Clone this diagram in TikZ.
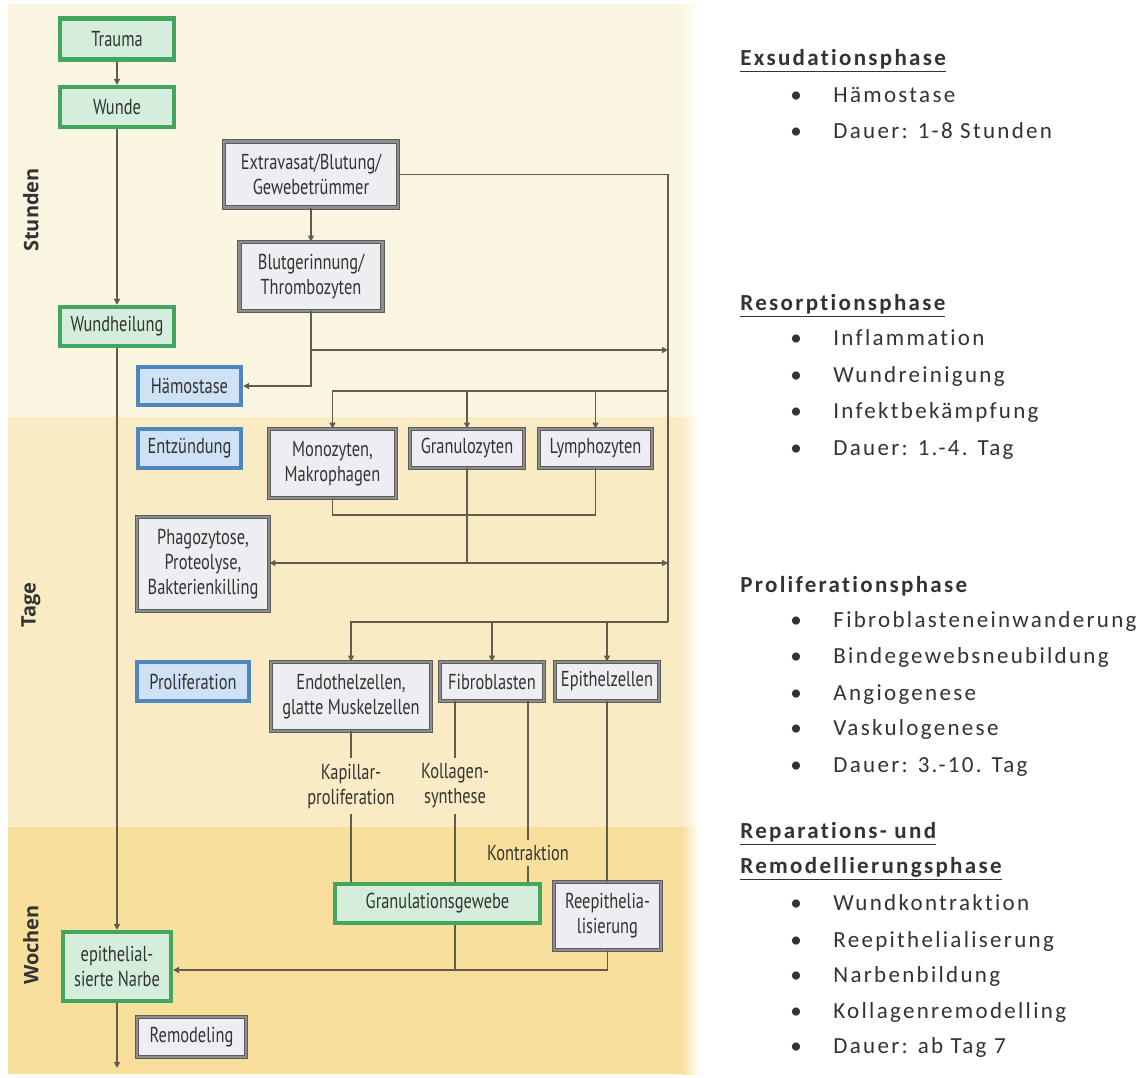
\documentclass[tikz,border=0pt]{standalone}
\usepackage{fontspec}
\setmainfont{Carlito}
\newfontfamily\boxfont[FakeStretch=0.76]{PT Sans}
\newfontfamily\sidefont[LetterSpace=10,Ligatures=NoCommon]{Carlito}
\newfontfamily\bandfont{Open Sans}
\usetikzlibrary{arrows.meta}

\definecolor{bandA}{HTML}{FBF6E2}
\definecolor{bandB}{HTML}{F9EBC4}
\definecolor{bandC}{HTML}{F8DF9C}
\definecolor{linec}{HTML}{625C4A}
\definecolor{grayfill}{HTML}{EDEEF2}
\definecolor{grayedge}{HTML}{5C5C5C}
\definecolor{graymid}{HTML}{8E8E8E}
\definecolor{greenfill}{HTML}{D4EEDB}
\definecolor{greenedge}{HTML}{42A660}
\definecolor{bluefill}{HTML}{CFE1F5}
\definecolor{blueedge}{HTML}{4E86C0}
\definecolor{txt}{HTML}{333333}

\begin{document}
\begin{tikzpicture}[x=0.5pt,y=-0.5pt,
  box/.style={rectangle, inner sep=0pt, align=center,
    font=\boxfont\fontsize{10.8}{12.5}\selectfont, text=txt},
  graybox/.style={box, fill=grayfill, draw=grayedge, line width=0.45pt,
    double=graymid, double distance=1.3pt},
  greenbox/.style={box, fill=greenfill, draw=greenedge, line width=2.1pt},
  bluebox/.style={box, fill=bluefill, draw=blueedge, line width=2.1pt},
  sz/.style 2 args={minimum width={(#1-4)*0.5pt}, minimum height={(#2-4)*0.5pt}},
  lbl/.style={inner sep=2.5pt, align=center, font=\boxfont\fontsize{10.8}{12.5}\selectfont, text=txt},
  conn/.style={draw=linec, line width=0.75pt},
  arr/.style={conn, -{Triangle[length=3pt,width=3pt]}},
  bandlbl/.style={rotate=90, font=\bandfont\bfseries\fontsize{10}{12}\selectfont, text=txt},
  side/.style={anchor=base west, inner sep=0pt, text=txt,
    font=\sidefont\fontsize{11.5}{14}\selectfont},
  head/.style={side, font=\sidefont\bfseries\fontsize{11.5}{14}\selectfont}
]
\useasboundingbox (0,0) rectangle (1146,1077);
\fill[white] (0,0) rectangle (1146,1077);

% time bands
\fill[bandA] (8,4) rectangle (682,417);
\fill[bandB] (8,417) rectangle (682,827);
\fill[bandC] (8,827) rectangle (682,1074);
\shade[left color=bandA, right color=white] (681,4) rectangle (700,417);
\shade[left color=bandB, right color=white] (681,417) rectangle (700,827);
\shade[left color=bandC, right color=white] (681,827) rectangle (700,1074);

\node[bandlbl] (lblS) at (31,210) {Stunden};
\node[bandlbl] (lblT) at (31,605) {Tage};
\node[bandlbl] (lblW) at (31,945) {Wochen};

% main course
\node[greenbox, sz={118}{45}] (trauma) at (117,39) {Trauma};
\node[greenbox, sz={118}{44}] (wunde) at (117,107) {Wunde};
\node[greenbox, sz={118}{43}] (heilung) at (117,326.5) {Wundheilung};
\node[greenbox, sz={112}{73}] (narbe) at (117,966.5) {epithelial-\\sierte Narbe};
\node[graybox, sz={113}{44}] (remodel) at (191.5,1037) {Remodeling};
\coordinate (endpt) at (117,1068);

% phases
\node[bluebox, sz={107}{42}] (haemo) at (189.5,386) {Hämostase};
\node[bluebox, sz={107}{43}] (entz) at (189.5,448.5) {Entzündung};
\node[bluebox, sz={116}{43}] (prolif) at (193,681.5) {Proliferation};

% haemostasis
\node[graybox, sz={178}{70}] (extra) at (311,174.5) {Extravasat/Blutung/\\Gewebetrümmer};
\node[graybox, sz={147}{73}] (blut) at (311,276.5) {Blutgerinnung/\\Thrombozyten};

% inflammation
\node[graybox, sz={131}{73}] (mono) at (332.5,463.5) {Monozyten,\\Makrophagen};
\node[graybox, sz={118}{43}] (granu) at (467,448.5) {Granulozyten};
\node[graybox, sz={117}{43}] (lympho) at (595.5,448.5) {Lymphozyten};
\node[graybox, sz={136}{98}] (phago) at (203,564) {Phagozytose,\\Proteolyse,\\Bakterienkilling};

% proliferation
\node[graybox, sz={164}{73}] (endo) at (351,696.5) {Endothelzellen,\\glatte Muskelzellen};
\node[graybox, sz={108}{43}] (fibro) at (492,681.5) {Fibroblasten};
\node[graybox, sz={108}{43}] (epi) at (607,681.5) {Epithelzellen};
\node[greenbox, sz={209}{43}] (granul) at (437.5,903.5) {Granulationsgewebe};
\node[graybox, sz={111}{72}] (reepi) at (607.5,916) {Reepithelia-\\lisierung};

\node[lbl] (kap) at (351,786) {Kapillar-\\proliferation};
\node[lbl] (koll) at (455,786) {Kollagen-\\synthese};
\node[lbl] (kontr) at (528,853) {Kontraktion};

% connectors
\coordinate (b350) at (668,350);
\coordinate (b391) at (668,391);
\coordinate (b563) at (668,563);
\coordinate (trunk) at (668,622);
\coordinate (lc) at (0,515);
\coordinate (bot) at (607,970);

\draw[arr] (trauma.south) -- (wunde.north);
\draw[arr] (wunde.south) -- (heilung.north);
\draw[arr] (heilung.south) -- (narbe.north);
\draw[arr] (narbe.south) -- (endpt);

\draw[arr] (extra.south) -- (blut.north);
\draw[arr] (blut.south) |- (haemo.east);
\draw[arr] (blut.south |- b350) -- (b350);
\draw[conn] (extra.east) -| (trunk);

\draw[arr] (b391) -| (mono.north);
\draw[arr] (granu.north |- b391) -- (granu.north);
\draw[arr] (lympho.north |- b391) -- (lympho.north);
\draw[conn] (mono.south) |- (lympho.south |- lc) -- (lympho.south);
\draw[conn] (granu.south) -- (granu.south |- b563);
\draw[conn, {Triangle[length=3pt,width=3pt]}-{Triangle[length=3pt,width=3pt]}] (phago.east |- b563) -- (b563);

\draw[arr] (trunk) -| (endo.north);
\draw[arr] (fibro.north |- trunk) -- (fibro.north);
\draw[arr] (epi.north |- trunk) -- (epi.north);

\draw[conn] (endo.south) -- (kap.north);
\draw[conn] (kap.south) -- (kap.south |- granul.north);
\draw[conn] (fibro.south -| koll.north) -- (koll.north);
\draw[conn] (koll.south) -- (koll.south |- granul.north);
\draw[conn] (koll.south |- granul.south) -- (koll.south |- bot);
\draw[conn] (fibro.south -| kontr.north) -- (kontr.north);
\draw[conn] (kontr.south) -- (kontr.south |- granul.north);
\draw[conn] (epi.south) -- (epi.south |- reepi.north);
\draw[arr] (reepi.south) |- (narbe.east |- bot);

% phase summary
\node[head] (h1) at (740,65) {\underline{Exsudationsphase}};
\node[side] (i11) at (790,102) {\makebox[21.5pt][l]{\textbullet}Hämostase};
\node[side] (i12) at (790,138) {\makebox[21.5pt][l]{\textbullet}Dauer: 1-8 Stunden};

\node[head] (h2) at (740,310) {\underline{Resorptionsphase}};
\node[side] (i21) at (790,345) {\makebox[21.5pt][l]{\textbullet}Inflammation};
\node[side] (i22) at (790,382) {\makebox[21.5pt][l]{\textbullet}Wundreinigung};
\node[side] (i23) at (790,418) {\makebox[21.5pt][l]{\textbullet}Infektbekämpfung};
\node[side] (i24) at (790,455) {\makebox[21.5pt][l]{\textbullet}Dauer: 1.-4. Tag};

\node[head] (h3) at (740,592) {Proliferationsphase};
\node[side] (i31) at (790,627) {\makebox[21.5pt][l]{\textbullet}Fibroblasteneinwanderung};
\node[side] (i32) at (790,663) {\makebox[21.5pt][l]{\textbullet}Bindegewebsneubildung};
\node[side] (i33) at (790,700) {\makebox[21.5pt][l]{\textbullet}Angiogenese};
\node[side] (i34) at (790,735) {\makebox[21.5pt][l]{\textbullet}Vaskulogenese};
\node[side] (i35) at (790,772) {\makebox[21.5pt][l]{\textbullet}Dauer: 3.-10. Tag};

\node[head] (h4a) at (740,838) {\underline{Reparations- und}};
\node[head] (h4b) at (740,873) {\underline{Remodellierungsphase}};
\node[side] (i41) at (790,910) {\makebox[21.5pt][l]{\textbullet}Wundkontraktion};
\node[side] (i42) at (790,947) {\makebox[21.5pt][l]{\textbullet}Reepithelialiserung};
\node[side] (i43) at (790,982) {\makebox[21.5pt][l]{\textbullet}Narbenbildung};
\node[side] (i44) at (790,1018) {\makebox[21.5pt][l]{\textbullet}Kollagenremodelling};
\node[side] (i45) at (790,1053) {\makebox[21.5pt][l]{\textbullet}Dauer: ab Tag 7};
\end{tikzpicture}
\end{document}
